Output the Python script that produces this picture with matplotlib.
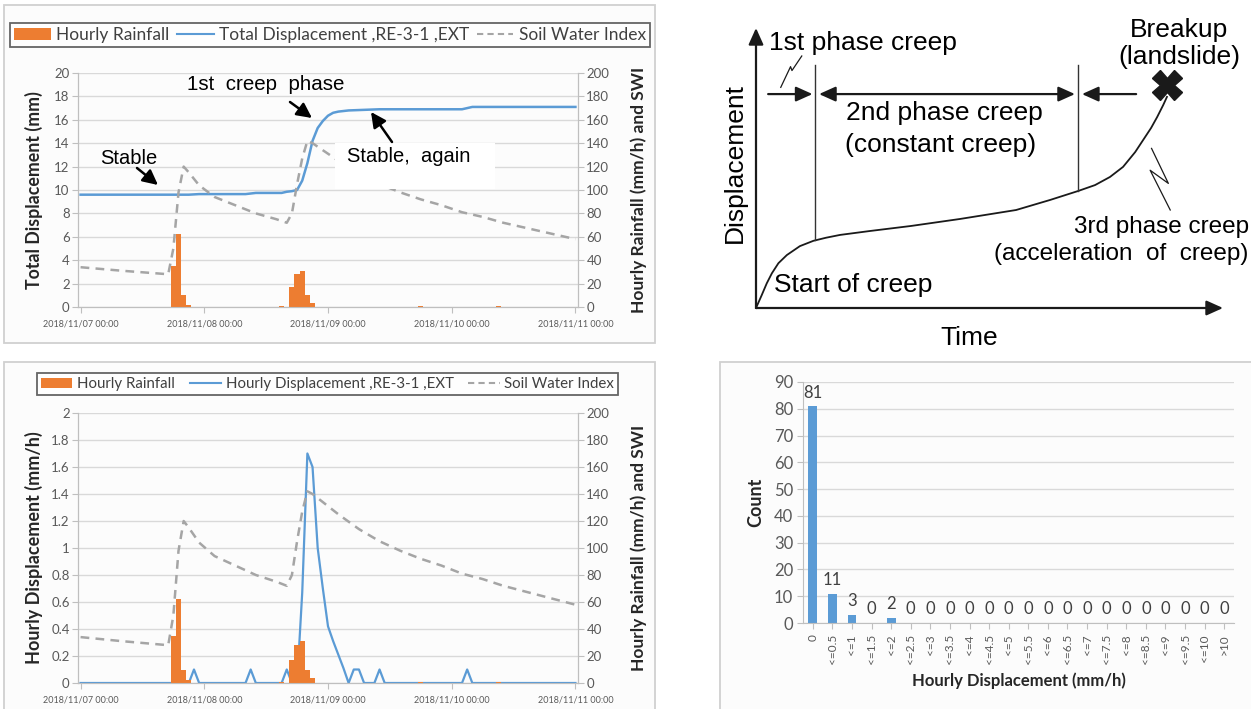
import matplotlib
matplotlib.use('Agg')
import matplotlib.pyplot as plt
from matplotlib.patches import Rectangle, Patch
from matplotlib.lines import Line2D

# ---------------- data ----------------
date_hours = [0, 24, 48, 72, 96]
date_labels = ['2018/11/07 00:00', '2018/11/08 00:00', '2018/11/09 00:00',
               '2018/11/10 00:00', '2018/11/11 00:00']

# hourly rainfall (mm/h), sparse: hour index -> value
rain_hours = [18, 19, 20, 21, 39, 41, 42, 43, 44, 45, 66, 81]
rain_mm = [35, 62, 10, 2, 0.5, 17, 28, 31, 10, 3.5, 1, 0.5]

# soil water index, read at selected hours
swi_hours = [0, 8, 17, 18, 19, 20, 21, 23, 26, 30, 34, 38, 40, 41, 42, 43, 44,
             45, 46, 48, 50, 54, 58, 62, 66, 70, 74, 78, 82, 86, 90, 94, 96]
swi_vals = [34, 31, 28, 50, 98, 120, 115, 104, 94, 87, 80, 75, 72, 80, 105, 127, 142,
            140, 137, 131, 125, 114, 105, 98, 92, 87, 81, 77, 72, 68, 64, 60, 58]

# total displacement (mm), read at selected hours
disp_hours = [0, 21, 23, 32, 34, 39, 40, 41, 42, 43, 44, 45, 46, 47, 48, 49, 50,
              52, 58, 74, 76, 96]
disp_total = [9.6, 9.6, 9.65, 9.65, 9.75, 9.75, 9.85, 9.9, 10.0, 10.8, 12.3, 14.2,
              15.3, 15.9, 16.35, 16.6, 16.7, 16.8, 16.9, 16.9, 17.1, 17.1]

# hourly displacement (mm/h), one value per hour, 2018/11/07 00:00 .. 2018/11/11 00:00
hourly_disp = [
    0, 0, 0, 0, 0, 0, 0, 0, 0, 0, 0, 0, 0, 0, 0, 0, 0, 0, 0, 0, 0, 0, 0.1, 0,
    0, 0, 0, 0, 0, 0, 0, 0, 0, 0.1, 0, 0, 0, 0, 0, 0, 0.1, 0, 0, 0.67, 1.7, 1.6, 1.0, 0.7,
    0.42, 0.31, 0.21, 0.11, 0, 0.1, 0.1, 0, 0, 0, 0.1, 0, 0, 0, 0, 0, 0, 0, 0, 0, 0, 0, 0, 0,
    0, 0, 0, 0.1, 0, 0, 0, 0, 0, 0, 0, 0, 0, 0, 0, 0, 0, 0, 0, 0, 0, 0, 0, 0,
    0]

# histogram of hourly displacement
hist_cats = ['0', '<=0.5', '<=1', '<=1.5', '<=2', '<=2.5', '<=3', '<=3.5', '<=4', '<=4.5',
             '<=5', '<=5.5', '<=6', '<=6.5', '<=7', '<=7.5', '<=8', '<=8.5', '<=9', '<=9.5',
             '<=10', '>10']
hist_counts = [81, 11, 3, 0, 2, 0, 0, 0, 0, 0, 0, 0, 0, 0, 0, 0, 0, 0, 0, 0, 0, 0]

# schematic creep curve (arbitrary units: time 0-100, displacement 0-100)
creep_time = [0, 1.2, 2.3, 3.4, 4.8, 6.6, 9.4, 12.3, 15.0, 18.0, 24.4, 33.2, 43.7,
              55.7, 63.0, 69.0, 72.6, 75.8, 78.6, 81.2, 82.9, 84.6, 85.9, 87.2, 88.0]
creep_disp = [0, 4.5, 8.8, 12.4, 16.0, 18.9, 22.1, 24.0, 25.1, 26.1, 27.5, 29.3, 31.8,
              35.0, 38.6, 41.8, 43.9, 46.8, 50.4, 55.7, 60.0, 64.3, 68.2, 72.5, 75.4]

# ---------------- style ----------------
BLUE = '#5B9BD5'
ORANGE = '#ED7D31'
GRAY = '#A5A5A5'
TICKC = '#595959'
W, H = 1251, 709

plt.rcParams['font.family'] = ['Lato', 'DejaVu Sans']
ARIAL = ['Liberation Sans', 'DejaVu Sans']

fig = plt.figure(figsize=(W / 100, H / 100), dpi=100)
fig.patch.set_facecolor('white')


def box(x0, y0, x1, y1):
    return [x0 / W, 1 - y1 / H, (x1 - x0) / W, (y1 - y0) / H]


# panel frames
for (x0, y0, x1, y1) in [(4, 5, 655, 343), (4, 362, 655, 715), (720, 362, 1258, 715)]:
    fig.add_artist(Rectangle((x0 / W, 1 - y1 / H), (x1 - x0) / W, (y1 - y0) / H,
                             transform=fig.transFigure, facecolor='#fcfcfc',
                             edgecolor='#d0d0d0', lw=1.3, zorder=0))


def ts_chart(rect, left_max, left_step, left_label, line_x, line_y, line_label,
             line_lw, legend_rect, legend_fs, label_fs):
    ax = fig.add_axes(box(*rect))
    axr = ax.twinx()
    ax.patch.set_alpha(0)
    axr.patch.set_alpha(0)
    ax.set_xlim(-0.5, 96.5)
    ax.set_ylim(0, left_max)
    axr.set_ylim(0, 200)
    n = int(round(left_max / left_step))
    lt = [round(i * left_step, 1) for i in range(n + 1)]
    ax.set_yticks(lt)
    ax.set_yticklabels(['%g' % v for v in lt])
    axr.set_yticks(list(range(0, 201, 20)))
    ax.set_xticks(date_hours)
    ax.set_xticklabels(date_labels, fontsize=6.5, color=TICKC)
    for a in (ax, axr):
        for s in a.spines.values():
            s.set_color('#bfbfbf')
            s.set_linewidth(0.8)
        a.spines['top'].set_visible(False)
        a.tick_params(axis='y', length=4, color='#bfbfbf', labelsize=9.5,
                      labelcolor=TICKC, pad=2)
    ax.tick_params(axis='x', length=4, color='#bfbfbf', pad=5)
    ax.yaxis.grid(True, color='#d9d9d9', lw=1.0)
    ax.set_axisbelow(True)

    ax.plot(line_x, line_y, color=BLUE, lw=line_lw, zorder=3)
    axr.bar(rain_hours, rain_mm, width=1.0, color=ORANGE, zorder=2)
    axr.plot(swi_hours, swi_vals, color=GRAY, lw=1.8, ls=(0, (3.5, 2.5)), zorder=3)

    ax.set_ylabel(left_label, fontsize=label_fs, fontweight='bold', color='#262626')
    ax.yaxis.set_label_coords(-0.07, 0.5)
    axr.set_ylabel('Hourly Rainfall (mm/h) and SWI', fontsize=12.5,
                   fontweight='bold', color='#262626')
    axr.yaxis.set_label_coords(1.104, 0.5)

    handles = [Patch(facecolor=ORANGE, edgecolor='none'),
               Line2D([], [], color=BLUE, lw=1.5),
               Line2D([], [], color=GRAY, lw=1.5, ls=(0, (3, 2)))]
    labels = ['Hourly Rainfall', line_label, 'Soil Water Index']
    x0, y0, x1, y1 = legend_rect
    leg = fig.legend(handles, labels, loc='center',
                     bbox_to_anchor=(x0 / W, 1 - y1 / H, (x1 - x0) / W, (y1 - y0) / H),
                     bbox_transform=fig.transFigure, ncol=3, mode='expand',
                     frameon=True, fancybox=False, edgecolor='#404040',
                     fontsize=legend_fs, handlelength=2.1, handletextpad=0.3,
                     borderaxespad=0, borderpad=0.25, columnspacing=0.4,
                     labelcolor='#404040')
    leg.get_frame().set_linewidth(1.3)
    return ax, axr


# ---------------- top-left chart ----------------
ax1, ax1r = ts_chart((78, 73, 578, 307), 20, 2, 'Total Displacement (mm)',
                     disp_hours, disp_total, 'Total Displacement ,RE-3-1 ,EXT', 1.8,
                     (10, 17, 650, 53), 12.5, 12.8)

# ---------------- bottom-left chart ----------------
hours_all = list(range(len(hourly_disp)))
ax2, ax2r = ts_chart((78, 413, 578, 683), 2, 0.2, 'Hourly Displacement (mm/h)',
                     hours_all, hourly_disp, 'Hourly Displacement ,RE-3-1 ,EXT', 1.6,
                     (37, 370, 618, 398), 10.8, 13)

# ---------------- annotations overlay (pixel coords) ----------------
ov = fig.add_axes([0, 0, 1, 1], zorder=10)
ov.set_xlim(0, W)
ov.set_ylim(H, 0)
ov.axis('off')
ov.patch.set_alpha(0)
ov.add_patch(Rectangle((335, 143), 160, 46, facecolor='white', edgecolor='none'))
ov.text(266, 85, '1st  creep  phase', fontsize=14.8, family=ARIAL, ha='center', va='center')
ov.text(100, 159, 'Stable', fontsize=14.5, family=ARIAL, ha='left', va='center')
ov.text(347, 157, 'Stable,  again', fontsize=14.5, family=ARIAL, ha='left', va='center')
aprops = dict(arrowstyle='-|>,head_length=0.9,head_width=0.45', lw=1.8, color='black',
              shrinkA=0, shrinkB=0)
ov.annotate('', xy=(158, 185), xytext=(137, 168), arrowprops=aprops)
ov.annotate('', xy=(312, 118), xytext=(290, 102), arrowprops=aprops)
ov.annotate('', xy=(371, 112), xytext=(392, 142), arrowprops=aprops)

# ---------------- schematic (top-right) ----------------
sc = fig.add_axes(box(756, 28, 1223, 308))
sc.set_xlim(0, 100)
sc.set_ylim(0, 100)
sc.axis('off')
arr = dict(arrowstyle='-|>,head_length=1.0,head_width=0.45', lw=1.6, color='#1a1a1a',
           shrinkA=0, shrinkB=0)
sc.annotate('', xy=(0, 100), xytext=(0, 0), arrowprops=arr, annotation_clip=False)
sc.annotate('', xy=(100, 0), xytext=(0, 0), arrowprops=arr, annotation_clip=False)
sc.plot(creep_time, creep_disp, color='#1a1a1a', lw=1.3, clip_on=False,
        solid_joinstyle='round')
sc.plot([12.6, 12.6], [24.3, 86.8], color='#333333', lw=1.0)
sc.plot([69.0, 69.0], [41.8, 86.8], color='#333333', lw=1.0)
sc.plot([88.0], [79.6], marker='X', markersize=21, color='#1a1a1a', mec='#1a1a1a')
sc.annotate('', xy=(12.1, 76.4), xytext=(2.6, 76.4), arrowprops=arr)
sc.annotate('', xy=(68.3, 76.4), xytext=(13.5, 76.4),
            arrowprops=dict(arrowstyle='<|-|>,head_length=1.0,head_width=0.45', lw=1.6,
                            color='#1a1a1a', shrinkA=0, shrinkB=0))
sc.annotate('', xy=(69.8, 76.4), xytext=(81.4, 76.4), arrowprops=arr)
sc.plot([9.8, 7.7, 7.4, 5.3], [90.0, 84.8, 86.2, 78.8], color='#1a1a1a', lw=0.9,
        clip_on=False)
sc.plot([84.7, 88.3, 84.4, 88.7], [57.0, 44.5, 49.2, 35.0], color='#1a1a1a', lw=0.9,
        clip_on=False)
FS = 19
sc.text(2.8, 94.6, '1st phase creep', fontsize=FS, family=ARIAL, ha='left', va='center')
sc.text(40.3, 69.6, '2nd phase creep', fontsize=FS, family=ARIAL, ha='center', va='center')
sc.text(39.6, 58.2, '(constant creep)', fontsize=FS, family=ARIAL, ha='center', va='center')
sc.text(90.6, 99.3, 'Breakup', fontsize=FS, family=ARIAL, ha='center', va='center')
sc.text(90.6, 89.6, '(landslide)', fontsize=FS, family=ARIAL, ha='center', va='center')
sc.text(105.5, 28.9, '3rd phase creep', fontsize=17.5, family=ARIAL, ha='right',
        va='center')
sc.text(105.5, 19.3, '(acceleration  of  creep)', fontsize=17.5, family=ARIAL, ha='right',
        va='center')
sc.text(3.9, 8.2, 'Start of creep', fontsize=FS, family=ARIAL, ha='left', va='center')
sc.text(45.6, -10.7, 'Time', fontsize=FS, family=ARIAL, ha='center', va='center')
sc.text(-4.5, 51.8, 'Displacement', fontsize=FS, family=ARIAL, ha='center', va='center',
        rotation=90)

# ---------------- histogram (bottom-right) ----------------
hx = fig.add_axes(box(803, 382, 1234, 623))
hx.patch.set_alpha(0)
pos = list(range(len(hist_cats)))
bars = hx.bar(pos, hist_counts, width=0.45, color=BLUE, zorder=2)
hx.bar_label(bars, padding=4, fontsize=12, color='#404040')
hx.set_xlim(-0.5, len(hist_cats) - 0.5)
hx.set_ylim(0, 90)
hx.set_yticks(list(range(0, 91, 10)))
hx.set_xticks(pos)
hx.set_xticklabels(hist_cats, rotation=90, fontsize=8.5, color=TICKC)
hx.yaxis.grid(True, color='#d9d9d9', lw=1.0)
hx.set_axisbelow(True)
for s in ['top', 'right']:
    hx.spines[s].set_visible(False)
for s in ['left', 'bottom']:
    hx.spines[s].set_color('#bfbfbf')
hx.tick_params(axis='y', length=4, color='#bfbfbf', labelsize=12, labelcolor=TICKC, pad=3)
hx.tick_params(axis='x', length=4, color='#bfbfbf', pad=4)
hx.set_ylabel('Count', fontsize=13, fontweight='bold', color='#262626')
hx.yaxis.set_label_coords(-0.09, 0.5)
hx.set_xlabel('Hourly Displacement (mm/h)', fontsize=12, fontweight='bold', color='#262626',
              labelpad=6)

fig.savefig('out.png', dpi=100)
